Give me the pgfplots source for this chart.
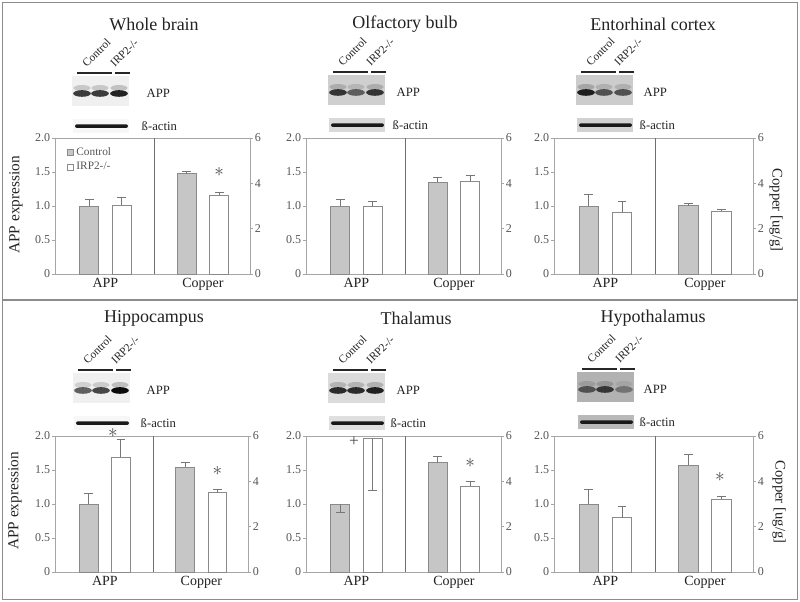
\documentclass[border=0pt]{standalone}
\usepackage{pgfplots}
\pgfplotsset{compat=1.18}
\usepackage{fontspec}
\setmainfont{Liberation Serif}
\definecolor{bargray}{HTML}{C6C6C6}
\definecolor{edgegray}{HTML}{8A8A8A}
\definecolor{axisgray}{HTML}{A6A6A6}
\definecolor{tickgray}{HTML}{555555}
\definecolor{errgray}{HTML}{777777}
\definecolor{divgray}{HTML}{6E6E6E}
\definecolor{framegray}{HTML}{8C8C8C}
\definecolor{txt}{HTML}{222222}

\tikzset{starnode/.style={font=\fontsize{14.5}{15}\selectfont, text=black!70, inner sep=0pt}}

\pgfplotsset{
  panel/.style={scale only axis, height=102pt, xmin=-0.05, xmax=5.95, clip=false,
    axis line style={draw=axisgray, line width=0.6pt},
    tick style={draw=axisgray, line width=0.6pt}, tick align=outside, major tick length=2pt,
    /pgf/number format/assume math mode=true,
    yticklabel style={font=\fontsize{9}{10}\selectfont, text=tickgray, inner sep=1.5pt},
    anchor=south west},
  leftax/.style={panel, ymin=0, ymax=2, ytick={0,0.5,1,1.5,2}, yticklabels={0,0.5,1.0,1.5,2.0},
    ytick pos=left, xtick={1.5,4.5}, xticklabels={APP,Copper}, xtick style={draw=none},
    xticklabel style={font=\fontsize{10.5}{12}\selectfont, text=txt, inner sep=1pt}},
  rightax/.style={panel, ymin=0, ymax=6, ytick={0,2,4,6}, axis y line*=right, axis x line=none},
  barbase/.style={ybar, bar width=0.585, bar shift=0pt, draw=edgegray, line width=0.6pt,
    /pgfplots/error bars/y dir=plus, /pgfplots/error bars/y explicit,
    /pgfplots/error bars/error bar style={line width=0.7pt, draw=errgray},
    /pgfplots/error bars/error mark options={rotate=90, mark size=3.3pt, draw=errgray, line width=0.7pt}},
  ctrl/.style={barbase, fill=bargray,
    legend image code/.code={\draw[fill=bargray,draw=edgegray,line width=0.5pt] (0pt,-2.3pt) rectangle (4.6pt,2.3pt);}},
  irp/.style={barbase, fill=white,
    legend image code/.code={\draw[fill=white,draw=edgegray,line width=0.5pt] (0pt,-2.3pt) rectangle (4.6pt,2.3pt);}},
}

% blot: #1 x0, #2 line y, #3 APP label x, #4 actin label x, #5 bg, #6 actin bg, #7 #8 #9 band opacities
\newcommand{\Blot}[9]{%
  \draw[black!85, line width=1pt] (#1+5,#2) -- (#1+40,#2);
  \draw[black!85, line width=1pt] (#1+43,#2) -- (#1+58,#2);
  \fill[#5] (#1,#2+3) rectangle (#1+57,#2+33);
  \fill[black, opacity=#7*0.22] (#1+10,#2+15) ellipse (8.5 and 3);
  \fill[black, opacity=#8*0.22] (#1+28,#2+15) ellipse (8.5 and 3);
  \fill[black, opacity=#9*0.22] (#1+47,#2+15) ellipse (8.5 and 3);
  \fill[black, opacity=#7] (#1+10,#2+20.5) ellipse (8.8 and 3.3);
  \fill[black, opacity=#8] (#1+28,#2+20.5) ellipse (8.8 and 3.3);
  \fill[black, opacity=#9] (#1+47,#2+20.5) ellipse (8.8 and 3.3);
  \fill[#6] (#1+1,#2+46) rectangle (#1+57,#2+60);
  \fill[black!90, rounded corners=1.5] (#1+3,#2+51.3) rectangle (#1+56,#2+55);
  \node[anchor=west, font=\fontsize{9.5}{11}\selectfont, text=txt] at (#3,#2+20) {APP};
  \node[anchor=west, font=\fontsize{9.5}{11}\selectfont, text=txt] at (#4,#2+53) {ß-actin};
  \node[rotate=45, anchor=south west, font=\fontsize{8.5}{10}\selectfont, text=txt, inner sep=1pt] at (#1+15,#2-3) {Control};
  \node[rotate=45, anchor=south west, font=\fontsize{8.5}{10}\selectfont, text=txt, inner sep=1pt] at (#1+43,#2-3) {IRP2-/-};
}

\begin{document}
\begin{tikzpicture}
\useasboundingbox (0,0) rectangle (600pt,451.5pt);

\begin{scope}[x=0.75pt, y=-0.75pt, yshift=451.5pt]
  \draw[framegray, line width=0.9pt] (2.5,2.5) rectangle (797.5,599.5);
  \draw[framegray, line width=0.9pt] (2.5,300) -- (797.5,300);
  % titles
  \node[font=\fontsize{13.5}{15}\selectfont, text=txt] at (154,24) {Whole brain};
  \node[font=\fontsize{13.5}{15}\selectfont, text=txt] at (405,24) {Olfactory bulb};
  \node[font=\fontsize{13.5}{15}\selectfont, text=txt] at (653,24) {Entorhinal cortex};
  \node[font=\fontsize{13.5}{15}\selectfont, text=txt] at (154,318) {Hippocampus};
  \node[font=\fontsize{13.5}{15}\selectfont, text=txt] at (416,318) {Thalamus};
  \node[font=\fontsize{13.5}{15}\selectfont, text=txt] at (653,318) {Hypothalamus};
  % axis titles
  \node[rotate=90, font=\fontsize{11.5}{13}\selectfont, text=txt] at (16,205) {APP expression};
  \node[rotate=90, font=\fontsize{11.5}{13}\selectfont, text=txt] at (15,501) {APP expression};
  \node[rotate=-90, font=\fontsize{11}{13}\selectfont, text=txt] at (776,210) {Copper [ug/g]};
  \node[rotate=-90, font=\fontsize{11}{13}\selectfont, text=txt] at (779,502) {Copper [ug/g]};
  % blots
  \Blot{72}{73}{142}{137}{gray!12}{gray!6}{0.75}{0.75}{0.85}
  \Blot{328}{72}{392}{388}{gray!38}{gray!30}{0.75}{0.55}{0.75}
  \Blot{576}{72}{639}{635}{gray!40}{gray!35}{0.85}{0.6}{0.6}
  \Blot{73}{370}{142}{136}{gray!12}{gray!6}{0.6}{0.7}{0.95}
  \Blot{328}{370}{392}{386}{gray!28}{gray!25}{0.8}{0.8}{0.85}
  \Blot{577}{369}{639}{635}{gray!60}{gray!55}{0.55}{0.7}{0.35}
\end{scope}

% ---------- Whole brain ----------
\begin{axis}[leftax, at={(41.25pt,246pt)}, width=146.25pt,
  legend style={at={(0.06,0.95)}, anchor=north west, draw=none, fill=none,
    font=\fontsize{8.5}{10}\selectfont, text=tickgray, inner sep=0pt, row sep=-0.5pt,
    cells={anchor=west}}]
  \addplot[ctrl] coordinates {(1,1.00) +- (0,0.10)}; \addlegendentry{Control}
  \addplot[irp] coordinates {(2,1.01) +- (0,0.11)}; \addlegendentry{IRP2-/-}
  \draw[divgray, line width=0.9pt] (axis cs:3,0) -- (axis cs:3,2);
\end{axis}
\begin{axis}[rightax, at={(41.25pt,246pt)}, width=146.25pt]
  \addplot[ctrl] coordinates {(4,4.43) +- (0,0.08)};
  \addplot[irp] coordinates {(5,3.48) +- (0,0.10)};
  \node[starnode] at (axis cs:5,4.52) {$\ast$};
\end{axis}

% ---------- Olfactory bulb ----------
\begin{axis}[leftax, at={(229.5pt,246pt)}, width=146.25pt]
  \addplot[ctrl] coordinates {(1,1.00) +- (0,0.10)};
  \addplot[irp] coordinates {(2,0.99) +- (0,0.08)};
  \draw[divgray, line width=0.9pt] (axis cs:3,0) -- (axis cs:3,2);
\end{axis}
\begin{axis}[rightax, at={(229.5pt,246pt)}, width=146.25pt]
  \addplot[ctrl] coordinates {(4,4.05) +- (0,0.20)};
  \addplot[irp] coordinates {(5,4.10) +- (0,0.25)};
\end{axis}

% ---------- Entorhinal cortex ----------
\begin{axis}[leftax, at={(415.5pt,246pt)}, width=149.25pt]
  \addplot[ctrl] coordinates {(1,1.00) +- (0,0.17)};
  \addplot[irp] coordinates {(2,0.91) +- (0,0.16)};
  \draw[divgray, line width=0.9pt] (axis cs:3,0) -- (axis cs:3,2);
\end{axis}
\begin{axis}[rightax, at={(415.5pt,246pt)}, width=149.25pt]
  \addplot[ctrl] coordinates {(4,3.02) +- (0,0.10)};
  \addplot[irp] coordinates {(5,2.76) +- (0,0.10)};
\end{axis}

% ---------- Hippocampus ----------
\begin{axis}[leftax, at={(41.25pt,22.5pt)}, width=144.75pt]
  \addplot[ctrl] coordinates {(1,1.00) +- (0,0.15)};
  \addplot[irp] coordinates {(2,1.69) +- (0,0.26)};
  \draw[divgray, line width=0.9pt] (axis cs:3,0) -- (axis cs:3,2);
  \node[starnode] at (axis cs:1.75,2.05) {$\ast$};
\end{axis}
\begin{axis}[rightax, at={(41.25pt,22.5pt)}, width=144.75pt]
  \addplot[ctrl] coordinates {(4,4.62) +- (0,0.20)};
  \addplot[irp] coordinates {(5,3.50) +- (0,0.12)};
  \node[starnode] at (axis cs:5,4.45) {$\ast$};
\end{axis}

% ---------- Thalamus ----------
\begin{axis}[leftax, at={(229.5pt,22.5pt)}, width=146.25pt]
  \addplot[ctrl, /pgfplots/error bars/y dir=minus] coordinates {(1,1.00) +- (0,0.12)};
  \addplot[irp, /pgfplots/error bars/y dir=minus] coordinates {(2,1.96) +- (0,0.76)};
  \draw[divgray, line width=0.9pt] (axis cs:3,0) -- (axis cs:3,2);
  \node[font=\fontsize{13}{13}\selectfont, text=black!70, inner sep=0pt] at (axis cs:1.43,1.92) {+};
\end{axis}
\begin{axis}[rightax, at={(229.5pt,22.5pt)}, width=146.25pt]
  \addplot[ctrl] coordinates {(4,4.82) +- (0,0.27)};
  \addplot[irp] coordinates {(5,3.79) +- (0,0.19)};
  \node[starnode] at (axis cs:5,4.82) {$\ast$};
\end{axis}

% ---------- Hypothalamus ----------
\begin{axis}[leftax, at={(415.5pt,22.5pt)}, width=149.25pt]
  \addplot[ctrl] coordinates {(1,1.00) +- (0,0.22)};
  \addplot[irp] coordinates {(2,0.80) +- (0,0.16)};
  \draw[divgray, line width=0.9pt] (axis cs:3,0) -- (axis cs:3,2);
\end{axis}
\begin{axis}[rightax, at={(415.5pt,22.5pt)}, width=149.25pt]
  \addplot[ctrl] coordinates {(4,4.72) +- (0,0.47)};
  \addplot[irp] coordinates {(5,3.22) +- (0,0.10)};
  \node[starnode] at (axis cs:4.95,4.17) {$\ast$};
\end{axis}
\end{tikzpicture}
\end{document}
